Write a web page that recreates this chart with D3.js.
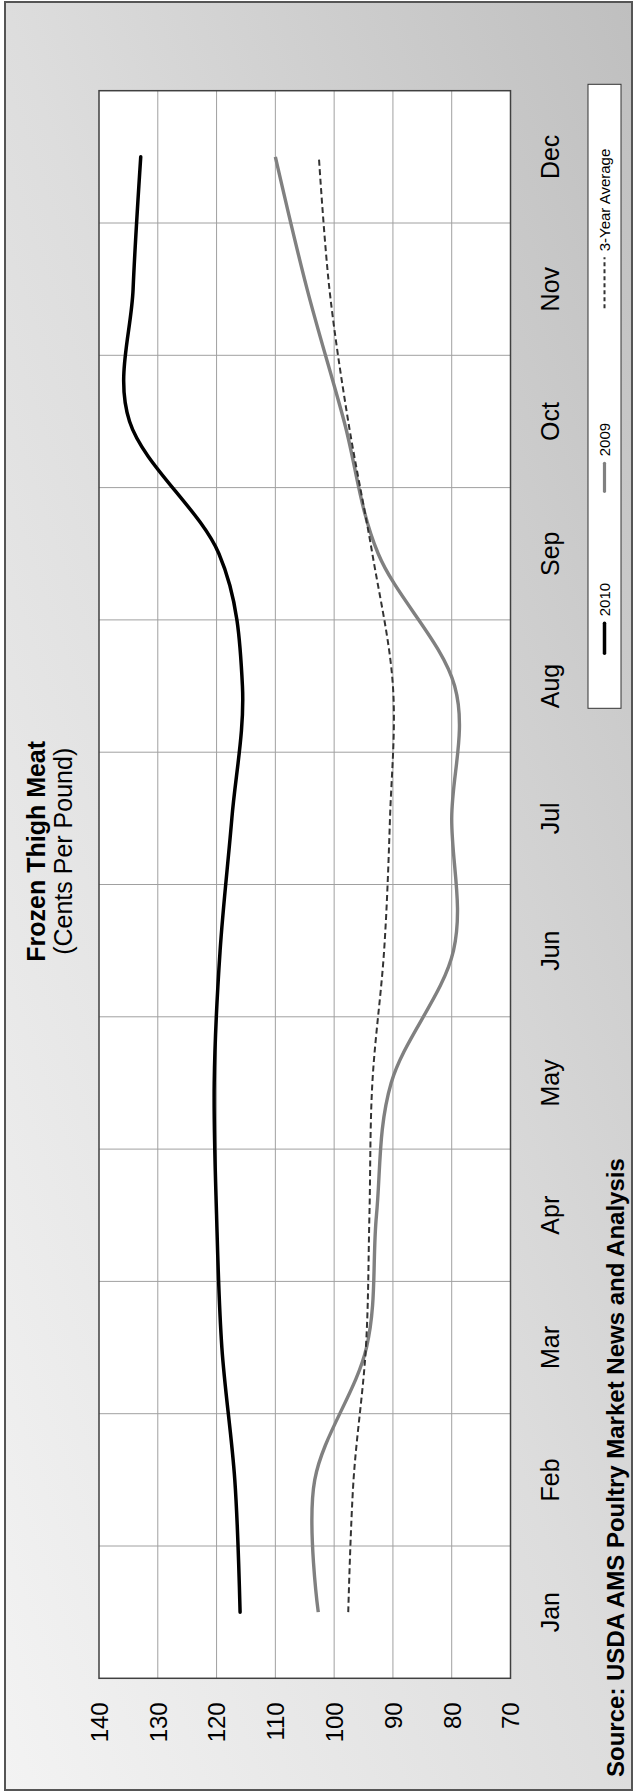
<!DOCTYPE html>
<html><head><meta charset="utf-8">
<script src="https://cdn.jsdelivr.net/npm/d3@7"></script>
<style>body{margin:0;background:#fff}svg{display:block}text{font-family:"Liberation Sans",Arial,sans-serif}</style>
</head><body><svg id="c" width="634" height="1792"></svg>
<script>
const months = ["Jan","Feb","Mar","Apr","May","Jun","Jul","Aug","Sep","Oct","Nov","Dec"];
const valueTicks = [140,130,120,110,100,90,80,70];
const s2010 = [116,116.9,119.1,120,120.4,119.4,117.4,115.6,119.6,134.8,134.2,132.9];
const s2009 = [102.7,103.3,94.5,92.8,90.3,79.7,80,79.5,92.5,98.3,104.6,110];
const sAvg  = [97.6,96.7,94.6,94,93.5,91.5,90.5,90,93.5,97.6,100.8,102.6];
const seriesNames = ["2010","2009","3-Year Average"];

const svg = d3.select("#c");
const defs = svg.append("defs");
const grad = defs.append("linearGradient").attr("id","bg")
  .attr("x1",0).attr("y1",1).attr("x2",1).attr("y2",0);
grad.append("stop").attr("offset",0).attr("stop-color","#f3f3f3");
grad.append("stop").attr("offset",0.5).attr("stop-color","#dddddd");
grad.append("stop").attr("offset",1).attr("stop-color","#bfbfbf");

svg.append("rect").attr("x",5).attr("y",2).attr("width",627).attr("height",1788)
  .attr("fill","url(#bg)").attr("stroke","#555").attr("stroke-width",2);

const W = 1587.6, H = 411.5;
const g = svg.append("g").attr("transform","translate(99,1678.3) rotate(-90)");

const x = d3.scaleBand().domain(months).range([0,W]);
const xc = m => x(m) + x.bandwidth()/2;
const y = d3.scaleLinear().domain([70,140]).range([H,0]);

g.append("rect").attr("width",W).attr("height",H).attr("fill","#fff");

// grid
g.append("g").selectAll("line").data(valueTicks.filter(v=>v>70&&v<140)).join("line")
  .attr("x1",0).attr("x2",W).attr("y1",d=>y(d)).attr("y2",d=>y(d))
  .attr("stroke","#a0a0a0").attr("stroke-width",1);
g.append("g").selectAll("line").data(months.slice(1)).join("line")
  .attr("x1",d=>x(d)).attr("x2",d=>x(d)).attr("y1",0).attr("y2",H)
  .attr("stroke","#a0a0a0").attr("stroke-width",1);

g.append("rect").attr("width",W).attr("height",H).attr("fill","none")
  .attr("stroke","#404040").attr("stroke-width",1.5);

// axes
const ax = g.append("g").attr("transform",`translate(0,${H})`)
  .call(d3.axisBottom(x).tickSize(0));
ax.select(".domain").remove();
ax.selectAll("text").attr("y",48).attr("dy","0").attr("font-size",25).attr("fill","#000")
  .style("font-family","'Liberation Sans',Arial,sans-serif");

const ay = g.append("g").call(d3.axisLeft(y).tickValues(valueTicks).tickSize(0));
ay.select(".domain").remove();
ay.selectAll("text").attr("x",-24).attr("dy","0.35em").attr("font-size",24).attr("fill","#000")
  .style("font-family","'Liberation Sans',Arial,sans-serif");

// lines
const line = d3.line().x((d,i)=>xc(months[i])).y(d=>y(d)).curve(d3.curveCardinal.tension(0));
g.append("path").attr("d",line(s2009)).attr("fill","none").attr("stroke","#808080").attr("stroke-width",3.4);
g.append("path").attr("d",line(sAvg)).attr("fill","none").attr("stroke","#333").attr("stroke-width",2)
  .attr("stroke-dasharray","6,3.5");
g.append("path").attr("d",line(s2010)).attr("fill","none").attr("stroke","#000").attr("stroke-width",3.5)
  .attr("stroke-linecap","round");

// title
g.append("text").attr("x",827).attr("y",-54).attr("text-anchor","middle")
  .attr("font-size",25).attr("font-weight","bold").text("Frozen Thigh Meat");
g.append("text").attr("x",827).attr("y",-27).attr("text-anchor","middle")
  .attr("font-size",25).text("(Cents Per Pound)");

// source
g.append("text").attr("x",-98.7).attr("y",525).attr("font-size",24).attr("font-weight","bold")
  .text("Source: USDA AMS Poultry Market News and Analysis");

// legend
const lg = g.append("g");
lg.append("rect").attr("x",970).attr("y",489).attr("width",624).attr("height",33)
  .attr("fill","#fff").attr("stroke","#333").attr("stroke-width",1);
const legItems = [
  {name:seriesNames[0], x0:1025, x1:1055, tx:1062, stroke:"#000", w:3.5, dash:null},
  {name:seriesNames[1], x0:1187, x1:1215, tx:1222, stroke:"#808080", w:3.2, dash:null},
  {name:seriesNames[2], x0:1370, x1:1421, tx:1427, stroke:"#333", w:2, dash:"4,3"}
];
legItems.forEach(it=>{
  lg.append("line").attr("x1",it.x0).attr("x2",it.x1).attr("y1",505.5).attr("y2",505.5)
    .attr("stroke",it.stroke).attr("stroke-width",it.w).attr("stroke-dasharray",it.dash)
    .attr("stroke-linecap", it.dash?null:"round");
  lg.append("text").attr("x",it.tx).attr("y",505.5).attr("dy","0.35em").attr("font-size",15).text(it.name);
});
</script></body></html>
